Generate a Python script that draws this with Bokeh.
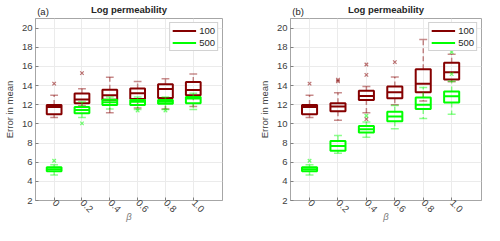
import math
from bokeh.plotting import figure
from bokeh.layouts import row
from bokeh.models import FixedTicker, Range1d, Legend, LegendItem, LinearAxis
from bokeh.embed import file_html
from bokeh.resources import INLINE

beta_labels = ["0", "0.2", "0.4", "0.6", "0.8", "1.0"]

# Panel (a)
a100_q1 = [11.0, 12.16, 12.51, 12.6, 12.71, 12.98]
a100_med = [11.76, 12.55, 13.0, 13.2, 13.64, 13.54]
a100_q3 = [11.96, 13.18, 13.57, 13.7, 14.13, 14.36]
a100_lo = [10.67, 11.9, 11.17, 11.66, 11.56, 11.82]
a100_hi = [13.0, 13.67, 14.86, 14.43, 14.7, 15.2]
a100_out_beta = ["0", "0.2"]
a100_out_val = [14.2, 15.3]

a500_q1 = [5.06, 11.1, 11.96, 11.96, 12.09, 12.15]
a500_med = [5.26, 11.46, 12.25, 12.3, 12.3, 12.65]
a500_q3 = [5.46, 11.76, 12.51, 12.48, 12.48, 12.8]
a500_lo = [4.67, 10.67, 11.56, 11.5, 11.5, 11.5]
a500_hi = [5.72, 12.3, 12.8, 12.8, 12.8, 13.2]
a500_out_beta = ["0", "0.2", "0.6", "0.8"]
a500_out_val = [6.15, 10.05, 11.4, 11.4]

# Panel (b)
b100_q1 = [11.0, 11.33, 12.48, 12.68, 13.3, 14.63]
b100_med = [11.76, 11.82, 12.9, 13.3, 14.2, 15.38]
b100_q3 = [11.96, 12.15, 13.47, 13.9, 15.7, 16.37]
b100_lo = [10.67, 10.37, 11.17, 12.0, 12.4, 14.4]
b100_hi = [13.0, 13.24, 13.9, 14.9, 18.8, 17.26]
b100_out_beta = ["0", "0.2", "0.2", "0.4", "0.4", "0.4", "0.6"]
b100_out_val = [14.2, 14.6, 14.45, 16.2, 15.12, 10.5, 16.44]

b500_q1 = [5.06, 7.2, 9.09, 10.28, 11.56, 12.22]
b500_med = [5.26, 7.7, 9.45, 10.77, 12.0, 12.88]
b500_q3 = [5.46, 8.2, 9.78, 11.27, 12.75, 13.37]
b500_lo = [4.67, 6.94, 8.6, 9.5, 10.57, 11.0]
b500_hi = [5.72, 8.79, 10.2, 11.92, 13.8, 14.46]
b500_out_beta = ["0", "0.4", "1.0", "1.0"]
b500_out_val = [6.15, 10.85, 17.5, 15.2]

series_names = ["100", "500"]
panel_title = "Log permeability"
RED = "#850000"
GREEN = "#00ff00"
FONT = "Liberation Sans"

pos = {b: i + 1 for i, b in enumerate(beta_labels)}
X0, X1, Y0, Y1 = 0.33, 7.05, 2, 21
BH = 0.265
CH = 0.14
TAG_X = 0.6


def draw_series(p, q1, med, q3, lo, hi, ob, ov, color):
    xs = [pos[b] for b in beta_labels]
    p.segment(x0=xs, y0=q3, x1=xs, y1=hi, line_color=color, line_alpha=0.45,
              line_width=1.5, line_dash="5 3")
    p.segment(x0=xs, y0=q1, x1=xs, y1=lo, line_color=color, line_alpha=0.45,
              line_width=1.5, line_dash="5 3")
    p.segment(x0=[x - CH for x in xs], y0=hi, x1=[x + CH for x in xs], y1=hi,
              line_color=color, line_alpha=0.45, line_width=1.5)
    p.segment(x0=[x - CH for x in xs], y0=lo, x1=[x + CH for x in xs], y1=lo,
              line_color=color, line_alpha=0.45, line_width=1.5)
    p.quad(left=[x - BH for x in xs], right=[x + BH for x in xs], bottom=q1, top=q3,
           fill_alpha=0, line_color=color, line_width=2)
    p.segment(x0=[x - BH for x in xs], y0=med, x1=[x + BH for x in xs], y1=med,
              line_color=color, line_width=2)
    p.scatter(x=[pos[b] for b in ob], y=ov, marker="x", size=5, line_color=color,
              line_alpha=0.55, line_width=1.2)


def make_panel(tag, s100, s500, left, right):
    p = figure(width=242, height=225, x_range=Range1d(X0, X1), y_range=Range1d(Y0, Y1),
               output_backend="svg", toolbar_location=None,
               min_border_left=left, min_border_right=right,
               min_border_top=0, min_border_bottom=0)
    p.background_fill_color = "white"
    p.border_fill_color = "white"
    p.outline_line_color = "#a6a6a6"
    p.outline_line_width = 1

    bottom = p.below[0]
    leftax = p.left[0]

    # top axis: panel tag as a tick label, title as the axis label on the same row
    top = LinearAxis(ticker=FixedTicker(ticks=[TAG_X]),
                     major_label_overrides={TAG_X: tag})
    top.axis_line_color = None
    top.major_tick_line_color = None
    top.minor_tick_line_color = None
    top.major_tick_in = 0
    top.major_tick_out = 0
    top.major_label_standoff = 2
    top.major_label_text_font = FONT
    top.major_label_text_font_size = "9.5px"
    top.major_label_text_color = "#262626"
    top.axis_label = panel_title
    top.axis_label_text_font = FONT
    top.axis_label_text_font_size = "9.5px"
    top.axis_label_text_font_style = "bold"
    top.axis_label_text_color = "#262626"
    top.axis_label_standoff = -12
    p.add_layout(top, "above")

    bottom.ticker = FixedTicker(ticks=[pos[b] for b in beta_labels])
    bottom.major_label_overrides = {pos[b]: b for b in beta_labels}
    bottom.major_label_orientation = -math.pi / 4
    leftax.ticker = FixedTicker(ticks=list(range(2, 21, 2)))
    for ax in (bottom, leftax):
        ax.axis_line_color = "#a6a6a6"
        ax.major_tick_in = 3
        ax.major_tick_out = 0
        ax.minor_tick_line_color = None
        ax.major_tick_line_color = "#808080"
        ax.major_label_text_font = FONT
        ax.major_label_text_font_size = "9.5px"
        ax.major_label_text_color = "#404040"
        ax.major_label_standoff = 3
    bottom.major_label_standoff = 1
    leftax.axis_label = "Error in mean"
    leftax.axis_label_text_font = FONT
    leftax.axis_label_text_font_size = "9.5px"
    leftax.axis_label_text_font_style = "normal"
    leftax.axis_label_text_color = "#404040"
    leftax.axis_label_standoff = 4
    bottom.axis_label = "β"
    bottom.axis_label_text_font = FONT
    bottom.axis_label_text_font_size = "9.5px"
    bottom.axis_label_text_font_style = "italic"
    bottom.axis_label_text_color = "#808080"
    bottom.axis_label_standoff = -7
    p.xgrid.ticker = FixedTicker(ticks=[pos[b] for b in beta_labels])
    p.ygrid.ticker = FixedTicker(ticks=list(range(2, 21, 2)))
    p.grid.grid_line_color = "#ebebeb"
    p.grid.grid_line_width = 1

    draw_series(p, *s100, RED)
    draw_series(p, *s500, GREEN)

    l1 = p.line(x=[-10, -9], y=[-10, -10], line_color=RED, line_width=2)
    l2 = p.line(x=[-10, -9], y=[-10, -10], line_color=GREEN, line_width=2)
    leg = Legend(items=[LegendItem(label=series_names[0], renderers=[l1]),
                        LegendItem(label=series_names[1], renderers=[l2])],
                 location="top_right")
    leg.label_text_font = FONT
    leg.label_text_font_size = "9.5px"
    leg.label_text_color = "#262626"
    leg.glyph_width = 24
    leg.glyph_height = 9
    leg.label_standoff = 3
    leg.label_width = 0
    leg.label_height = 9
    leg.padding = 2
    leg.spacing = 1
    leg.margin = 4
    leg.border_line_color = "#a6a6a6"
    leg.background_fill_alpha = 1
    p.add_layout(leg, "center")
    return p


pa = make_panel("(a)",
                (a100_q1, a100_med, a100_q3, a100_lo, a100_hi, a100_out_beta, a100_out_val),
                (a500_q1, a500_med, a500_q3, a500_lo, a500_hi, a500_out_beta, a500_out_val),
                31, 20)
pb = make_panel("(b)",
                (b100_q1, b100_med, b100_q3, b100_lo, b100_hi, b100_out_beta, b100_out_val),
                (b500_q1, b500_med, b500_q3, b500_lo, b500_hi, b500_out_beta, b500_out_val),
                48, 3)

layout = row(pa, pb)
open("out.html", "w").write(file_html(layout, INLINE))
